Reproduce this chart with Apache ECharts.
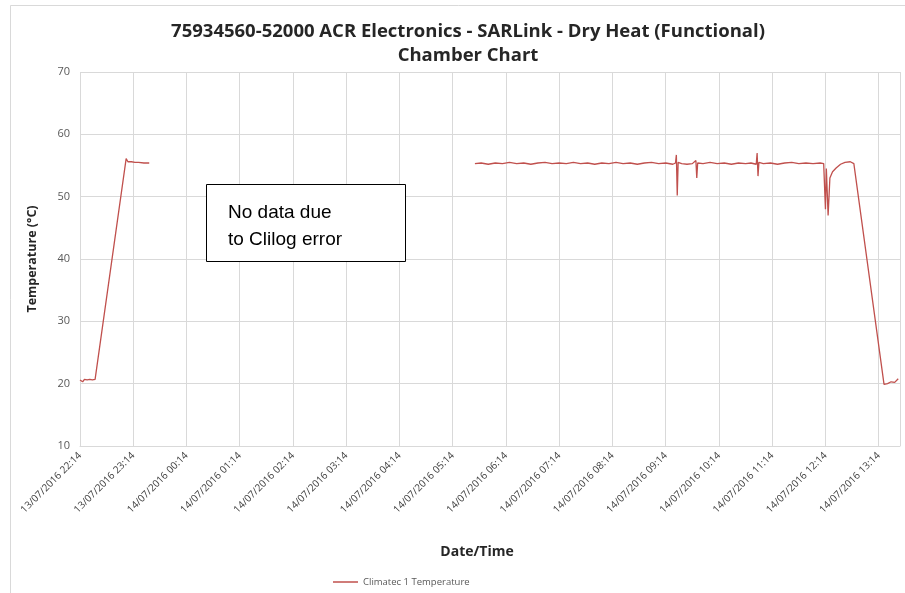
<!DOCTYPE html>
<html>
<head>
<meta charset="utf-8">
<script src="https://cdn.jsdelivr.net/npm/echarts@6/dist/echarts.min.js"></script>
<style>html,body{margin:0;padding:0;background:#fff;}#c{width:905px;height:593px;}</style>
</head>
<body>
<div id="c"></div>
<script>
// Minutes elapsed since 13/07/2016 22:14
var minutes = [
  0, 2, 3, 5, 8, 11, 14, 17, 52, 54, 58, 62, 66, 72, 78,
  79,
  445, 452, 460, 468, 476, 484, 492, 500, 508, 516, 524, 532, 540, 548, 556, 564, 572, 580, 588, 596,
  604, 612, 620, 628, 636, 644, 652, 660, 668, 671, 672, 673, 674, 678, 684, 690, 694, 695, 696, 702,
  710, 718, 726, 734, 742, 750, 756, 762, 763, 764, 765, 770, 778, 786, 794, 802, 810, 818, 826, 834,
  838, 840, 841, 843, 845, 848, 852, 857, 862, 868, 872, 906, 910, 914, 918, 922
];
var temperature = [
  20.6, 20.8, 20.3, 20.7, 20.6, 20.7, 20.6, 20.7, 56.1, 55.6, 55.6, 55.5, 55.5, 55.4, 55.4,
  null,
  55.3, 55.4, 55.2, 55.4, 55.3, 55.5, 55.3, 55.4, 55.2, 55.4, 55.5, 55.3, 55.4, 55.3, 55.5, 55.3, 55.4, 55.2, 55.4, 55.3,
  55.5, 55.3, 55.4, 55.2, 55.4, 55.5, 55.3, 55.4, 55.2, 55.4, 56.7, 50.2, 55.5, 55.3, 55.2, 55.3, 55.8, 53.0, 55.4, 55.3,
  55.5, 55.3, 55.4, 55.2, 55.4, 55.3, 55.4, 55.2, 57.0, 53.3, 55.5, 55.3, 55.4, 55.2, 55.4, 55.5, 55.3, 55.4, 55.3, 55.4,
  55.3, 48.0, 54.5, 47.0, 53.0, 54.0, 54.6, 55.2, 55.5, 55.6, 55.3, 19.9, 20.0, 20.3, 20.2, 20.8
];
var tickLabels = [
  "13/07/2016 22:14", "13/07/2016 23:14", "14/07/2016 00:14", "14/07/2016 01:14",
  "14/07/2016 02:14", "14/07/2016 03:14", "14/07/2016 04:14", "14/07/2016 05:14",
  "14/07/2016 06:14", "14/07/2016 07:14", "14/07/2016 08:14", "14/07/2016 09:14",
  "14/07/2016 10:14", "14/07/2016 11:14", "14/07/2016 12:14", "14/07/2016 13:14"
];
var seriesName = "Climatec 1 Temperature";
var titleLines = "75934560-52000 ACR Electronics - SARLink - Dry Heat (Functional)\nChamber Chart";
var noteText = "No data due\nto Clilog error";

var data = minutes.map(function (m, i) { return [m, temperature[i]]; });
var font = "'Open Sans', 'Liberation Sans', sans-serif";
var chart = echarts.init(document.getElementById('c'), null, {renderer: 'canvas'});
chart.setOption({
  animation: false,
  backgroundColor: '#fff',
  title: [{
    text: titleLines,
    left: 463, top: 15, textAlign: 'center',
    textStyle: {fontFamily: font, fontSize: 18.5, fontWeight: 'bold', color: '#262626', lineHeight: 24}
  }, {
    text: 'Date/Time',
    left: 472, top: 540, textAlign: 'center',
    textStyle: {fontFamily: font, fontSize: 14, fontWeight: 'bold', color: '#262626'}
  }],
  legend: {
    show: true,
    data: [{name: seriesName, icon: 'rect'}],
    left: 328, top: 572,
    itemWidth: 25, itemHeight: 1.5, itemGap: 4,
    textStyle: {fontFamily: font, fontSize: 9.5, color: '#595959'}
  },
  grid: {left: 80, right: 5, top: 72, bottom: 147, containLabel: false},
  xAxis: {
    type: 'value', min: 0, max: 924, interval: 60,
    axisLine: {show: true, lineStyle: {color: '#d9d9d9'}},
    axisTick: {show: false},
    splitLine: {show: true, lineStyle: {color: '#d9d9d9', width: 1}},
    axisLabel: {
      rotate: 45, margin: 8, fontFamily: font, fontSize: 10, color: '#404040',
      showMaxLabel: false,
      formatter: function (v) { var i = Math.round(v / 60); return (v % 60 === 0 && tickLabels[i]) ? tickLabels[i] : ''; }
    }
  },
  yAxis: {
    type: 'value', min: 10, max: 70, interval: 10,
    name: 'Temperature (°C)', nameLocation: 'middle', nameGap: 41,
    nameTextStyle: {fontFamily: font, fontSize: 12.5, fontWeight: 'bold', color: '#262626'},
    axisLine: {show: false}, axisTick: {show: false},
    splitLine: {show: true, lineStyle: {color: '#d9d9d9', width: 1}},
    axisLabel: {fontFamily: font, fontSize: 11, color: '#595959', margin: 10}
  },
  series: [{
    name: seriesName, type: 'line', data: data, showSymbol: false, symbol: 'none',
    connectNulls: false,
    lineStyle: {color: '#c0504d', width: 1.3},
    itemStyle: {color: '#c0504d'}
  }],
  graphic: [{
    type: 'rect', left: 8, top: 3, z: -10, silent: true,
    shape: {width: 1000, height: 1000},
    style: {fill: 'none', stroke: '#d9d9d9', lineWidth: 1}
  }, {
    type: 'rect', left: 206, top: 184, z: 100,
    shape: {width: 199, height: 77},
    style: {fill: '#fff', stroke: '#000', lineWidth: 1}
  }, {
    type: 'text', left: 228, top: 199, z: 101,
    style: {text: noteText, font: "19px 'Liberation Sans', Arial, sans-serif", fill: '#000', lineHeight: 27}
  }]
});
</script>
</body>
</html>
